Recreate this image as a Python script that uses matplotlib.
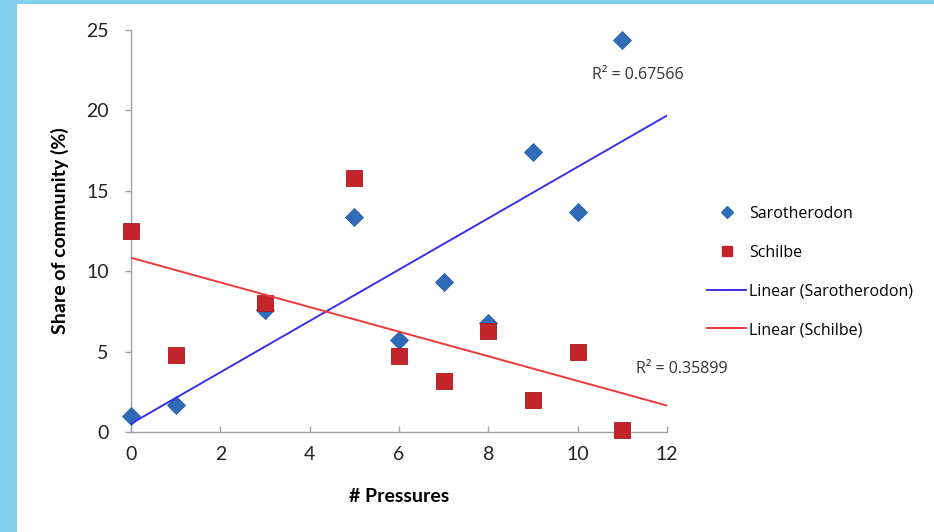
import numpy as np
import matplotlib
matplotlib.use("Agg")
import matplotlib.pyplot as plt
from matplotlib.lines import Line2D
from matplotlib.patches import Rectangle

# Number of pressures per site and species share of the fish community (%)
pressures = [0, 1, 3, 5, 6, 7, 8, 9, 10, 11]
sarotherodon = [1.0, 1.7, 7.6, 13.4, 5.7, 9.3, 6.8, 17.4, 13.7, 24.4]
schilbe = [12.5, 4.8, 8.0, 15.8, 4.7, 3.2, 6.3, 2.0, 5.0, 0.1]
r2_labels = ["R\u00b2 = 0.67566", "R\u00b2 = 0.35899"]
x_ticks = [0, 2, 4, 6, 8, 10, 12]
y_ticks = [0, 5, 10, 15, 20, 25]

plt.rcParams['font.family'] = ['Lato', 'DejaVu Sans']

fig = plt.figure(figsize=(9.34, 5.32), dpi=100)
fig.patch.set_facecolor('white')
# light blue slide frame on the left and top edges
fig.add_artist(Rectangle((0, 0), 17 / 934, 1, transform=fig.transFigure,
                         facecolor='#80d0ee', edgecolor='none', zorder=0))
fig.add_artist(Rectangle((0, 1 - 4 / 532), 1, 4 / 532, transform=fig.transFigure,
                         facecolor='#80d0ee', edgecolor='none', zorder=0))

ax = fig.add_axes([131 / 934, 1 - 432 / 532, (667 - 131) / 934, (432 - 30) / 532])
ax.set_xlim(0, 12)
ax.set_ylim(0, 25)
ax.set_facecolor('none')

blue_mk = '#2f6cb8'
red_mk = '#c4252b'
blue_ln = '#3a30e8'
red_ln = '#ee3a3a'

x = np.array(pressures, dtype=float)
xfit = np.array([0.0, 12.0])
p_s = np.polyfit(x, sarotherodon, 1)
p_c = np.polyfit(x, schilbe, 1)

ax.plot(x, sarotherodon, linestyle='none', marker='D', markersize=9,
        color=blue_mk, markeredgecolor='#2a5fa5', markeredgewidth=0.6, zorder=3,
        clip_on=False)
ax.plot(x, schilbe, linestyle='none', marker='s', markersize=11,
        color=red_mk, markeredgecolor='#a8181c', markeredgewidth=0.6, zorder=4,
        clip_on=False)
ax.plot(xfit, np.polyval(p_s, xfit), color=blue_ln, linewidth=1.4, zorder=5)
ax.plot(xfit, np.polyval(p_c, xfit), color=red_ln, linewidth=1.4, zorder=5)

for side in ['top', 'right']:
    ax.spines[side].set_visible(False)
for side in ['left', 'bottom']:
    ax.spines[side].set_color('#a0a0a0')
    ax.spines[side].set_linewidth(1.0)

ax.set_xticks(x_ticks)
ax.set_yticks(y_ticks)
ax.tick_params(axis='both', colors='#a0a0a0', labelcolor='#222222',
               labelsize=14, length=4, width=1)
ax.tick_params(axis='x', direction='in', pad=10)
ax.tick_params(axis='y', direction='out', pad=12)

ax.set_xlabel('# Pressures', fontsize=14, fontweight='bold', labelpad=18)
ax.set_ylabel('Share of community (%)', fontsize=14, fontweight='bold', labelpad=12)

small = ['Open Sans', 'DejaVu Sans']
fig.text(592 / 934, 1 - 75 / 532, r2_labels[0], fontsize=11.5, color='#333333',
         va='center', ha='left', family=small)
fig.text(636 / 934, 1 - 369 / 532, r2_labels[1], fontsize=11.5, color='#333333',
         va='center', ha='left', family=small)

handles = [
    Line2D([], [], linestyle='none', marker='D', markersize=6, color=blue_mk),
    Line2D([], [], linestyle='none', marker='s', markersize=7, color=red_mk),
    Line2D([], [], color=blue_ln, linewidth=1.4),
    Line2D([], [], color=red_ln, linewidth=1.4),
]
labels = ['Sarotherodon', 'Schilbe', 'Linear (Sarotherodon)', 'Linear (Schilbe)']
fig.legend(handles, labels, loc='center left',
           bbox_to_anchor=(701 / 934, 1 - 272 / 532), frameon=False,
           prop={'family': small, 'size': 11.5}, labelspacing=1.42,
           handlelength=2.4, handletextpad=0.2, borderaxespad=0)

fig.savefig('out.png', dpi=100, facecolor='white')
